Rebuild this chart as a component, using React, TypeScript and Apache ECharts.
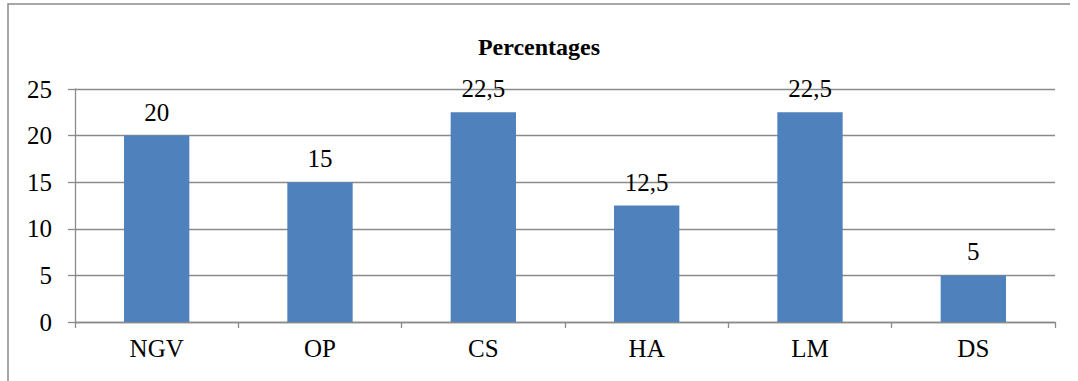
import React, { useEffect, useRef } from "react";
import * as echarts from "echarts";

const categories = ["NGV", "OP", "CS", "HA", "LM", "DS"];
const values = [20, 15, 22.5, 12.5, 22.5, 5];
const yTicks = [0, 5, 10, 15, 20, 25];
const titleText = "Percentages";

const FONT = "'Liberation Serif', 'Times New Roman', serif";

export default function App() {
  const ref = useRef<HTMLDivElement>(null);
  useEffect(() => {
    if (!ref.current) return;
    const chart = echarts.init(ref.current, null, { renderer: "svg" });
    chart.setOption({
      animation: false,
      backgroundColor: "#ffffff",
      textStyle: { fontFamily: FONT },
      title: {
        text: titleText,
        left: "center",
        top: 30,
        textStyle: { fontFamily: FONT, fontSize: 24, fontWeight: "bold", color: "#000" },
      },
      graphic: [
        {
          type: "polyline",
          shape: { points: [[8, 400], [8, 4], [1070, 4]] },
          style: { fill: "none", stroke: "#8a8a8a", lineWidth: 1.5 },
          silent: true,
        },
      ],
      grid: { left: 75, right: 23, top: 89, bottom: 59 },
      xAxis: {
        type: "category",
        data: categories,
        axisLine: { show: true, lineStyle: { color: "#8a8a8a", width: 1.3 } },
        axisTick: { show: true, length: 6, alignWithLabel: false, lineStyle: { color: "#8a8a8a", width: 1.3 } },
        axisLabel: { fontFamily: FONT, fontSize: 25, color: "#000", margin: 14 },
        splitLine: { show: false },
      },
      yAxis: {
        type: "value",
        min: yTicks[0],
        max: yTicks[yTicks.length - 1],
        interval: 5,
        axisLine: { show: true, lineStyle: { color: "#8a8a8a", width: 1.3 } },
        axisTick: { show: true, length: 7, lineStyle: { color: "#8a8a8a", width: 1.3 } },
        axisLabel: { fontFamily: FONT, fontSize: 25, color: "#000", margin: 23 },
        splitLine: { show: true, lineStyle: { color: "#8a8a8a", width: 1.3 } },
      },
      series: [
        {
          type: "bar",
          data: values,
          barWidth: "40%",
          itemStyle: { color: "#4f81bd" },
          label: {
            show: true,
            position: "top",
            distance: 11,
            fontFamily: FONT,
            fontSize: 25,
            color: "#000",
            formatter: (p: any) => String(p.value).replace(".", ","),
          },
        },
      ],
    });
    return () => chart.dispose();
  }, []);
  return (
    <div
      ref={ref}
      style={{ position: "absolute", left: 0, top: 0, width: 1078, height: 381 }}
    />
  );
}
